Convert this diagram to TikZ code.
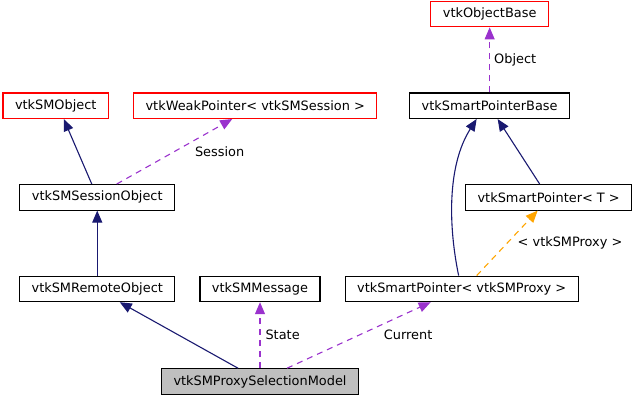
\documentclass[tikz,border=0pt]{standalone}
\usepackage{fontspec}
\setmainfont{DejaVu Sans}
\usetikzlibrary{positioning, arrows.meta}

\definecolor{navyline}{RGB}{25,25,112}
\definecolor{purpline}{RGB}{154,50,205}
\definecolor{tmplline}{RGB}{255,165,0}
\definecolor{curfill}{RGB}{191,191,191}

\begin{document}
\begin{tikzpicture}[
    x=1pt, y=-1pt,
    >={Triangle[length=12pt, width=10pt]},
    line width=1.1pt,
    font=\fontsize{12.9}{15}\selectfont,
    % Node Styles
    cls/.style={rectangle, draw=black, fill=white, minimum height=25.5pt, inner xsep=12pt, inner ysep=3pt},
    ext/.style={cls, draw=red},
    cur/.style={cls, fill=curfill},
    % Edge Styles
    inh/.style={->, draw=navyline},
    use/.style={->, draw=purpline, dash pattern=on 6pt off 5pt},
    tmpl/.style={->, draw=tmplline, dash pattern=on 6pt off 5pt},
    lbl/.style={midway, anchor=west, inner sep=0pt}
]
\useasboundingbox (0,0) rectangle (636,400);

% --- 1. Bottom (documented class) ---
\node[cur] (model) at (260,381.5) {vtkSMProxySelectionModel};

% --- 2. Direct parents / members ---
\node[cls, above=66pt of model] (msg) {vtkSMMessage};
\node[cls, left=24pt of msg] (remote) {vtkSMRemoteObject};
\node[cls, right=24pt of msg] (spproxy) {vtkSmartPointer< vtkSMProxy >};

% --- 3. Middle row ---
\node[cls, above=65pt of remote] (session) {vtkSMSessionObject};
\node[cls, above=65pt of spproxy, xshift=87pt] (spT) {vtkSmartPointer< T >};

% --- 4. Upper rows ---
\node[ext, above=65pt of session, xshift=-41.5pt] (smobj) {vtkSMObject};
\node[ext, right=24pt of smobj] (weak) {vtkWeakPointer< vtkSMSession >};
\node[cls, above=65pt of spT, xshift=-59pt] (spbase) {vtkSmartPointerBase};
\node[ext, above=65pt of spbase] (objbase) {vtkObjectBase};

% --- Edges ---
% Inheritance
\draw[inh] ([xshift=-22pt]model.north) -- ([xshift=22.5pt]remote.south);
\draw[inh] (remote) -- (session);
\draw[inh] ([xshift=-5.5pt]session.north) -- ([xshift=8pt]smobj.south);
\draw[inh] ([xshift=-9pt]spT.north) -- ([xshift=8pt]spbase.south);
\draw[inh] ([xshift=-3pt]spproxy.north) .. controls +(-10pt,48pt) and +(-30pt,-47pt) .. ([xshift=-13pt]spbase.south);

% Members
\draw[use] (model.north) -- node[lbl, xshift=5pt] {State} (msg.south);
\draw[use] ([xshift=27pt]model.north) -- node[lbl, xshift=24.5pt] {Current} ([xshift=-31pt]spproxy.south);
\draw[use] ([xshift=19.5pt]session.north) -- node[lbl, xshift=20pt] {Session} ([xshift=-23pt]weak.south);
\draw[use] (spbase) -- node[lbl, xshift=4pt] {Object} (objbase);

% Template
\draw[tmpl] ([xshift=15pt]spproxy.north) -- node[lbl, xshift=10pt] {< vtkSMProxy >} ([xshift=-11pt]spT.south);

\end{tikzpicture}
\end{document}
